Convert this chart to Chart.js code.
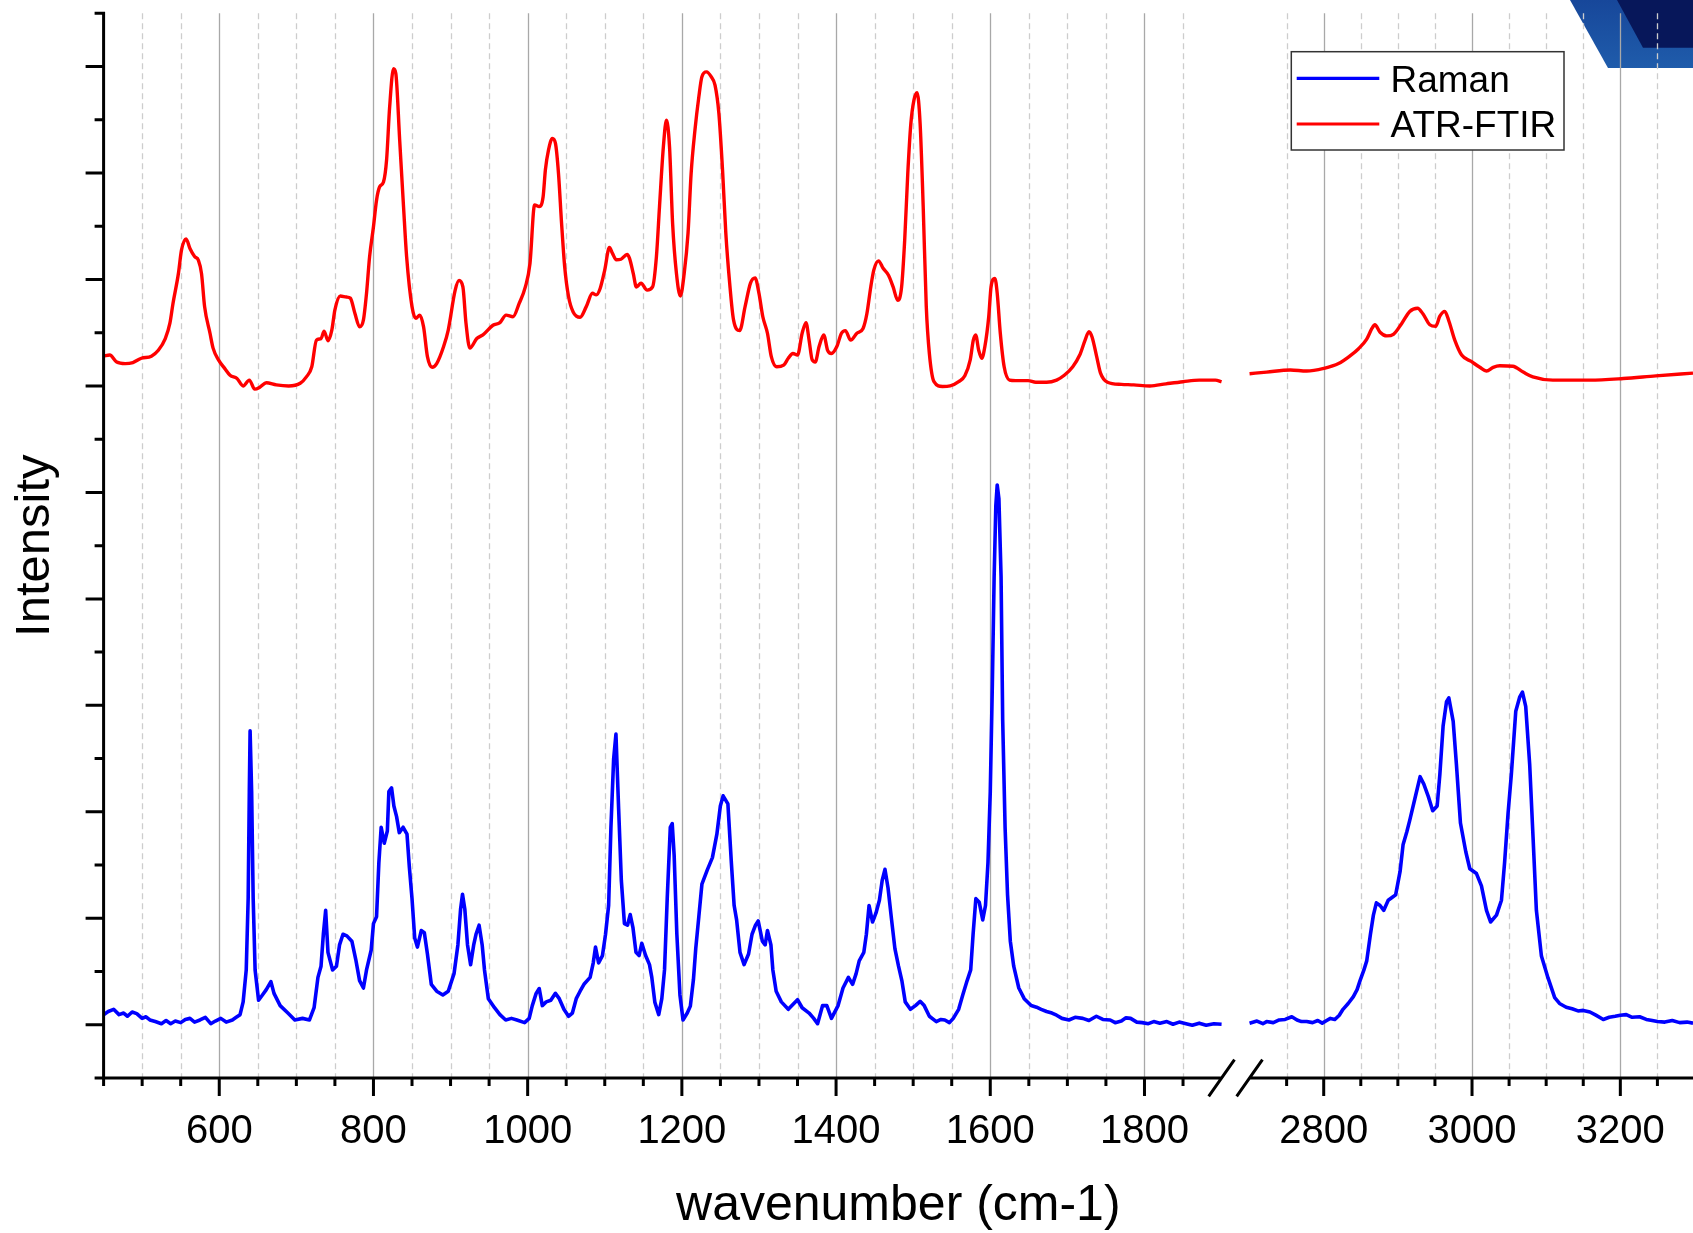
<!DOCTYPE html>
<html>
<head>
<meta charset="utf-8">
<script src="https://cdn.jsdelivr.net/npm/chart.js@4.4.1/dist/chart.umd.min.js"></script>
<style>
html,body{margin:0;padding:0;background:#fff;}
#wrap{position:relative;width:1693px;height:1233px;background:#fff;}
canvas{display:block;}
</style>
</head>
<body>
<div id="wrap"><canvas id="c" width="1693" height="1233"></canvas></div>
<script>
// ---------------- DATA ----------------
const seriesNames = ['Raman', 'ATR-FTIR'];

// Raman, low-wavenumber segment
const ramanWnLeft = [450,456,463,470,476,481,487,493,500,505,510,517,525,531,537,543,550,556,562,568,575,582,589,595,602,609,617,622,627,631,635,637.5,639,640,642,644,646.5,651,656,661,667,671,679,689,698,708,717,723,728,732,735,738,741,747,752,756,760.5,765.5,772,777,782,787,791,797,800,804,807,810,814,818,820,823.5,826.5,830,833.5,838.5,843.5,846.5,850,853.5,857,862,866,870,875,882,890,897,904.5,909.5,913,915.5,918.5,922,926,930,933,937,941,944,949,957,964,971.5,979,986,996,1002,1006,1011,1015,1019,1024,1030,1036,1041,1047,1053,1058,1063,1068,1073,1081,1085,1088,1092,1097,1101,1105,1108,1111.5,1114.5,1118,1121.5,1125.5,1129.5,1133,1136.5,1140.5,1144.5,1148,1153,1158,1161,1165,1170,1174,1177.5,1181,1185,1187.5,1190,1193.5,1197.5,1201.5,1207,1211,1215,1218,1222,1226,1233,1239.6,1245.4,1249.9,1253.5,1259.7,1264.2,1267.8,1271,1275.4,1280.7,1286.5,1291,1295.5,1299,1304.4,1308,1311,1315.5,1318,1322.3,1329,1338,1344.6,1350,1356,1365,1371,1376,1382.5,1388,1394,1402.6,1409,1416,1421.4,1426,1430,1436,1439.3,1442.8,1447.3,1451.8,1456.2,1459.8,1463.4,1467.4,1472,1476.3,1481,1485.3,1489.7,1496.4,1503,1509,1514.3,1521,1530,1536,1541,1547,1552,1559,1564.3,1570,1574.6,1577.7,1581.3,1585.7,1590.2,1593.8,1597,1600,1602.7,1605,1607.2,1609,1611.2,1614,1616.1,1619.2,1622.4,1626,1630.4,1637,1644,1653,1660,1666,1673,1680,1686,1693,1702,1710,1720,1728,1737.6,1746,1755.5,1762,1770,1776,1782,1790,1797,1805,1812,1820,1829,1837,1845,1854,1862,1871,1880,1890,1900];
const ramanIntLeft = [1.19,1.25,1.29,1.19,1.22,1.16,1.24,1.21,1.12,1.15,1.09,1.06,1.02,1.08,1.02,1.07,1.04,1.10,1.12,1.05,1.09,1.14,1.02,1.07,1.12,1.05,1.09,1.14,1.19,1.43,2.03,3.37,5.38,6.52,5.38,3.37,2.03,1.46,1.56,1.66,1.81,1.59,1.36,1.22,1.09,1.12,1.09,1.32,1.89,2.10,2.70,3.15,2.36,2.03,2.10,2.50,2.70,2.67,2.57,2.23,1.83,1.69,2.03,2.40,2.90,3.03,4.04,4.71,4.41,4.64,5.38,5.45,5.11,4.91,4.61,4.71,4.58,3.97,3.37,2.63,2.46,2.77,2.73,2.33,1.76,1.63,1.56,1.63,1.96,2.50,3.17,3.45,3.17,2.50,2.13,2.50,2.70,2.87,2.50,2.03,1.49,1.32,1.19,1.09,1.12,1.09,1.04,1.12,1.36,1.59,1.68,1.36,1.43,1.46,1.59,1.49,1.29,1.16,1.22,1.49,1.63,1.76,1.89,2.16,2.46,2.16,2.30,2.70,3.24,4.71,5.99,6.46,5.05,3.71,2.90,2.87,3.07,2.83,2.36,2.30,2.53,2.30,2.13,1.89,1.42,1.19,1.49,2.03,3.37,4.71,4.78,4.18,2.70,1.56,1.09,1.22,1.35,1.85,2.43,3.03,3.64,3.91,4.14,4.58,5.11,5.30,5.15,4.04,3.24,2.97,2.36,2.13,2.33,2.70,2.87,2.95,2.57,2.50,2.77,2.50,2.03,1.63,1.43,1.29,1.39,1.47,1.32,1.22,1.12,1.02,1.36,1.36,1.12,1.36,1.69,1.89,1.76,1.96,2.20,2.36,2.70,3.24,2.93,3.10,3.34,3.71,3.92,3.57,2.97,2.43,2.10,1.83,1.43,1.29,1.36,1.44,1.36,1.16,1.06,1.10,1.09,1.04,1.12,1.29,1.56,1.83,2.03,2.70,3.37,3.30,2.97,3.24,4.04,5.38,7.40,9.41,10.75,11.14,10.88,9.41,6.72,4.71,3.44,2.57,2.10,1.69,1.49,1.36,1.33,1.29,1.25,1.22,1.18,1.12,1.09,1.14,1.12,1.08,1.16,1.10,1.09,1.04,1.07,1.13,1.12,1.05,1.04,1.02,1.06,1.03,1.06,1.01,1.05,1.02,0.99,1.03,0.99,1.02,1.01];

// Raman, high-wavenumber segment
const ramanWnRight = [2700,2710,2718,2723,2732,2740,2748,2757,2764,2770,2777,2785,2792,2798,2804,2809,2815,2821,2826,2833,2840,2845,2849,2854,2858,2863,2867,2871,2876,2881,2887,2893,2897,2903,2907,2912,2916,2923,2930,2935,2941,2947,2953,2956.6,2961,2965.6,2968.7,2974.6,2979,2984.4,2991.6,2997,3006,3012.7,3019.5,3025,3033,3039.7,3044,3048.6,3053,3059,3064.4,3068,3072.4,3077.8,3082.3,3086.8,3093.6,3102.5,3111.5,3118,3127,3135,3143,3150,3159,3167,3177,3185,3193,3200,3208,3216,3226,3235,3243,3250,3260,3270,3280,3290,3298];
const ramanIntRight = [1.03,1.07,1.02,1.06,1.04,1.09,1.10,1.15,1.09,1.06,1.06,1.04,1.08,1.03,1.08,1.12,1.10,1.18,1.29,1.40,1.53,1.66,1.83,2.02,2.20,2.70,3.06,3.29,3.24,3.15,3.34,3.40,3.44,3.88,4.38,4.62,4.84,5.25,5.66,5.52,5.29,5.02,5.11,5.70,6.61,7.07,7.14,6.70,5.88,4.79,4.25,3.93,3.84,3.61,3.15,2.93,3.06,3.34,4.06,4.97,5.70,6.89,7.16,7.25,6.98,5.88,4.52,3.15,2.29,1.88,1.51,1.40,1.33,1.30,1.26,1.27,1.24,1.18,1.10,1.14,1.16,1.18,1.19,1.14,1.15,1.10,1.08,1.06,1.05,1.08,1.04,1.05,1.03];

// ATR-FTIR, low-wavenumber segment
const ftirWnLeft = [450,458,467,478,488,499,512,521,530,536,540,547,551,557,562,568,573,577,581,588,592,599,607,614,623,631,639,646,653,661,674,690,705,713,720,726,732,736,741,746,750,757,765,770,776,782,787,791,795,800,804,808,813,817,821,826,829,834,839,843,850,855,860,865,870,876,882,891,897,906,911,916,920,925,934,942,955,964,972,981,989,997,1003,1009,1015,1020,1023,1027,1032,1036,1040,1044,1048,1053,1059,1068,1076,1084,1089,1094,1100,1106,1110,1115,1121,1129,1132,1137,1141,1147,1155,1162,1167,1171,1176,1180,1184,1188,1193,1198,1203,1208,1212,1217,1222,1226,1232,1238,1243,1248,1253,1257,1262,1267,1275,1282,1289,1295,1300,1305,1311,1316,1323,1332,1338,1344,1350,1356,1361,1365,1369,1373,1378,1384,1389,1394,1401,1407,1412,1419,1427,1435,1440,1445,1449,1455,1461,1468,1474,1480,1485,1489,1493,1497,1501,1505,1509,1513,1517,1521,1527,1538,1548,1559,1567,1574,1578,1581,1585,1589,1593,1598,1601,1606,1609,1613,1618,1625,1633,1649,1659,1673,1686,1696,1707,1716,1723,1728,1732,1738,1743,1752,1770,1786,1807,1828,1850,1871,1892,1900];
const ftirIntLeft = [13.56,13.58,13.45,13.42,13.44,13.52,13.56,13.67,13.89,14.18,14.55,15.11,15.55,15.76,15.58,15.43,15.36,15.11,14.49,13.99,13.71,13.49,13.33,13.20,13.14,13.00,13.11,12.94,12.98,13.06,13.02,13.00,13.05,13.17,13.36,13.86,13.89,14.03,13.85,14.05,14.43,14.69,14.67,14.65,14.36,14.11,14.24,14.74,15.43,15.99,16.49,16.74,16.83,17.24,18.24,18.96,18.87,17.62,16.37,15.43,14.49,14.27,14.33,14.11,13.55,13.35,13.42,13.74,14.05,14.80,14.98,14.86,14.18,13.71,13.89,13.96,14.14,14.19,14.33,14.30,14.55,14.86,15.30,16.40,16.37,16.55,17.06,17.43,17.65,17.56,16.99,16.05,15.24,14.68,14.39,14.29,14.49,14.74,14.71,14.83,15.18,15.60,15.49,15.37,15.38,15.47,15.40,15.11,14.86,14.93,14.80,14.86,15.43,16.37,17.49,17.99,17.49,16.05,15.11,14.69,15.11,15.87,16.99,17.81,18.43,18.81,18.90,18.81,18.65,18.12,16.99,15.87,14.93,14.24,14.04,14.49,14.93,15.03,14.74,14.30,13.99,13.55,13.36,13.39,13.52,13.61,13.58,13.99,14.19,13.86,13.49,13.45,13.74,13.96,13.67,13.61,13.74,13.99,14.04,13.86,13.99,14.08,14.36,14.86,15.18,15.35,15.21,15.08,14.86,14.61,14.86,15.74,16.99,17.93,18.37,18.51,17.93,16.37,14.49,13.61,13.08,12.99,13.00,13.08,13.19,13.49,13.86,13.96,13.67,13.52,13.74,14.30,14.86,15.02,14.74,13.99,13.36,13.11,13.10,13.10,13.07,13.07,13.11,13.20,13.36,13.58,13.86,14.02,13.92,13.55,13.24,13.07,13.03,13.02,13.00,13.04,13.08,13.11,13.11,13.08];

// ATR-FTIR, high-wavenumber segment
const ftirWnRight = [2700,2723,2755,2777,2800,2820,2835,2847,2858,2865,2869,2876,2885,2894,2905,2916,2926.5,2934,2943,2951,2956.6,2963.3,2969,2977,2986,2999,3010.5,3019.5,3028.5,3037.4,3055,3069,3082,3109,3159,3204,3248,3298];
const ftirIntRight = [13.23,13.26,13.30,13.28,13.33,13.42,13.56,13.70,13.88,14.08,14.15,14.01,13.94,13.97,14.17,14.40,14.46,14.35,14.15,14.12,14.31,14.40,14.21,13.85,13.58,13.46,13.35,13.28,13.35,13.38,13.37,13.26,13.17,13.11,13.11,13.14,13.19,13.24];

// axis ranges / ticks
const xLeftRange = [450, 1900];
const xRightRange = [2700, 3298];
const xMajorTicks = [600, 800, 1000, 1200, 1400, 1600, 1800, 2800, 3000, 3200];
const xMinorStep = 50;
const yRange = [0, 20];
const yTickStep = 1;

// ---------------- LAYOUT CONSTANTS (not data) ----------------
const BREAK_FRAC = [0.7034, 0.7210];
const FONT = "'Liberation Sans', Arial, Helvetica, sans-serif";
Chart.defaults.font.family = FONT;

// ---------------- broken x scale ----------------
class BrokenScale extends Chart.LinearScale {
  static id = 'broken';
  static defaults = {};
  _segs() {
    const w = this.right - this.left;
    return { l0: this.left, l1: this.left + w * BREAK_FRAC[0], r0: this.left + w * BREAK_FRAC[1], r1: this.right };
  }
  getPixelForValue(v) {
    if (v === null || v === undefined || isNaN(v)) return NaN;
    const s = this._segs();
    if (v <= xLeftRange[1]) return s.l0 + (v - xLeftRange[0]) / (xLeftRange[1] - xLeftRange[0]) * (s.l1 - s.l0);
    if (v >= xRightRange[0]) return s.r0 + (v - xRightRange[0]) / (xRightRange[1] - xRightRange[0]) * (s.r1 - s.r0);
    return s.l1 + (v - xLeftRange[1]) / (xRightRange[0] - xLeftRange[1]) * (s.r0 - s.l1);
  }
  getValueForPixel(p) {
    const s = this._segs();
    if (p <= s.l1) return xLeftRange[0] + (p - s.l0) / (s.l1 - s.l0) * (xLeftRange[1] - xLeftRange[0]);
    if (p >= s.r0) return xRightRange[0] + (p - s.r0) / (s.r1 - s.r0) * (xRightRange[1] - xRightRange[0]);
    return xLeftRange[1] + (p - s.l1) / (s.r0 - s.l1) * (xRightRange[0] - xLeftRange[1]);
  }
}
Chart.register(BrokenScale);

function buildXTicks() {
  const t = [];
  for (let v = xLeftRange[0]; v < xLeftRange[1]; v += xMinorStep) t.push(v);
  for (let v = xRightRange[0] + xMinorStep; v < xRightRange[1]; v += xMinorStep) t.push(v);
  return t;
}
const xTickValues = buildXTicks();

function pts(wl, il, wr, ir) {
  const out = wl.map((w, i) => ({ x: w, y: il[i] }));
  out.push({ x: (xLeftRange[1] + xRightRange[0]) / 2, y: null });
  wr.forEach((w, i) => out.push({ x: w, y: ir[i] }));
  return out;
}

// ---------------- drawing plugin ----------------
const frame = {
  id: 'frame',
  beforeDatasetsDraw(chart) {
    const ctx = chart.ctx, a = chart.chartArea, xs = chart.scales.x;
    ctx.save();
    // corner decoration
    const W = chart.width;
    let g = ctx.createLinearGradient(0, 0, 0, 68);
    g.addColorStop(0, '#17479a'); g.addColorStop(1, '#1f5cab');
    ctx.fillStyle = g;
    ctx.beginPath(); ctx.moveTo(1570, 0); ctx.lineTo(W, 0); ctx.lineTo(W, 68); ctx.lineTo(1608, 68); ctx.closePath(); ctx.fill();
    ctx.fillStyle = '#07175a';
    ctx.beginPath(); ctx.moveTo(1617, 0); ctx.lineTo(W, 0); ctx.lineTo(W, 47.7); ctx.lineTo(1643, 47.7); ctx.closePath(); ctx.fill();
    // vertical grid lines
    for (const t of xs.ticks) {
      const v = t.value;
      if (v === xLeftRange[0]) continue;
      const px = Math.round(xs.getPixelForValue(v)) + 0.5;
      const major = xMajorTicks.includes(v);
      ctx.strokeStyle = major ? '#a8a8a8' : '#cdcdcd';
      ctx.lineWidth = 1.3;
      ctx.setLineDash(major ? [] : [6, 4]);
      ctx.beginPath(); ctx.moveTo(px, a.top); ctx.lineTo(px, a.bottom); ctx.stroke();
    }
    ctx.restore();
  },
  afterDatasetsDraw(chart) {
    const ctx = chart.ctx, a = chart.chartArea, xs = chart.scales.x, ys = chart.scales.y;
    ctx.save();
    ctx.strokeStyle = '#000'; ctx.lineWidth = 3; ctx.lineCap = 'butt'; ctx.setLineDash([]);
    const l1 = xs.getPixelForValue(xLeftRange[1]);
    const r0 = xs.getPixelForValue(xRightRange[0]);
    ctx.beginPath();
    // y axis
    ctx.moveTo(a.left, a.top - 1.5); ctx.lineTo(a.left, a.bottom + 1.5);
    // x axis (broken)
    ctx.moveTo(a.left, a.bottom); ctx.lineTo(l1, a.bottom);
    ctx.moveTo(r0, a.bottom); ctx.lineTo(a.right, a.bottom);
    // x ticks
    for (const t of xs.ticks) {
      const px = xs.getPixelForValue(t.value);
      const len = xMajorTicks.includes(t.value) ? 18 : 8;
      ctx.moveTo(px, a.bottom); ctx.lineTo(px, a.bottom + len);
    }
    // y ticks
    for (let v = yRange[0]; v <= yRange[1]; v += yTickStep) {
      const py = ys.getPixelForValue(v);
      const len = (v % 2 === 1) ? 18 : 9;
      ctx.moveTo(a.left, py); ctx.lineTo(a.left - len, py);
    }
    // break marks
    for (const px of [l1, r0]) {
      ctx.moveTo(px - 12.9, a.bottom + 18.4); ctx.lineTo(px + 12.9, a.bottom - 18.4);
    }
    ctx.stroke();

    // legend
    const bx = 1291.3, by = 51.7, bw = 272.7, bh = 98.3;
    ctx.fillStyle = '#fff';
    ctx.fillRect(bx, by, bw, bh);
    ctx.strokeStyle = '#333'; ctx.lineWidth = 1.5;
    ctx.strokeRect(bx, by, bw, bh);
    ctx.font = '37px ' + FONT;
    ctx.textBaseline = 'alphabetic'; ctx.textAlign = 'left';
    chart.data.datasets.forEach((ds, i) => {
      const ly = [78.3, 124][i];
      const tb = [91.7, 136.7][i];
      ctx.strokeStyle = ds.borderColor; ctx.lineWidth = 3.2;
      ctx.beginPath(); ctx.moveTo(1296.7, ly); ctx.lineTo(1379.3, ly); ctx.stroke();
      ctx.fillStyle = '#000';
      ctx.fillText(ds.label, 1390.5, tb);
    });
    ctx.restore();
  }
};

// ---------------- chart ----------------
new Chart(document.getElementById('c'), {
  type: 'line',
  data: {
    datasets: [
      { label: seriesNames[0], data: pts(ramanWnLeft, ramanIntLeft, ramanWnRight, ramanIntRight),
        borderColor: '#0000ff', borderWidth: 3.6, pointRadius: 0, fill: false, tension: 0, spanGaps: false,
        borderJoinStyle: 'round' },
      { label: seriesNames[1], data: pts(ftirWnLeft, ftirIntLeft, ftirWnRight, ftirIntRight),
        borderColor: '#ff0000', borderWidth: 3.4, pointRadius: 0, fill: false, cubicInterpolationMode: 'monotone', spanGaps: false,
        borderJoinStyle: 'round' }
    ]
  },
  options: {
    responsive: false,
    animation: false,
    devicePixelRatio: 1,
    events: [],
    layout: { padding: { top: 13.3, right: 0, left: 0, bottom: 0 } },
    plugins: { legend: { display: false }, tooltip: { enabled: false } },
    scales: {
      x: {
        type: 'broken', position: 'bottom',
        min: xLeftRange[0], max: xRightRange[1],
        afterBuildTicks: s => { s.ticks = xTickValues.map(v => ({ value: v })); },
        afterFit: s => { s.height = 155; },
        grid: { display: false, drawTicks: false },
        border: { display: false },
        ticks: {
          autoSkip: false, maxRotation: 0, minRotation: 0, padding: 30,
          color: '#000', font: { size: 40, family: FONT },
          callback: v => xMajorTicks.includes(v) ? String(v) : ''
        },
        title: { display: true, text: 'wavenumber (cm-1)', color: '#000',
                 font: { size: 50, family: FONT, lineHeight: 1.08 }, padding: { top: 0, bottom: 0 } }
      },
      y: {
        min: yRange[0], max: yRange[1],
        afterFit: s => { s.width = 103.6; },
        grid: { display: false, drawTicks: false },
        border: { display: false },
        ticks: { display: false, stepSize: yTickStep },
        title: { display: true, text: 'Intensity', color: '#000',
                 font: { size: 49, family: FONT }, padding: { top: 6, bottom: 0 } }
      }
    }
  },
  plugins: [frame]
});
</script>
</body>
</html>
